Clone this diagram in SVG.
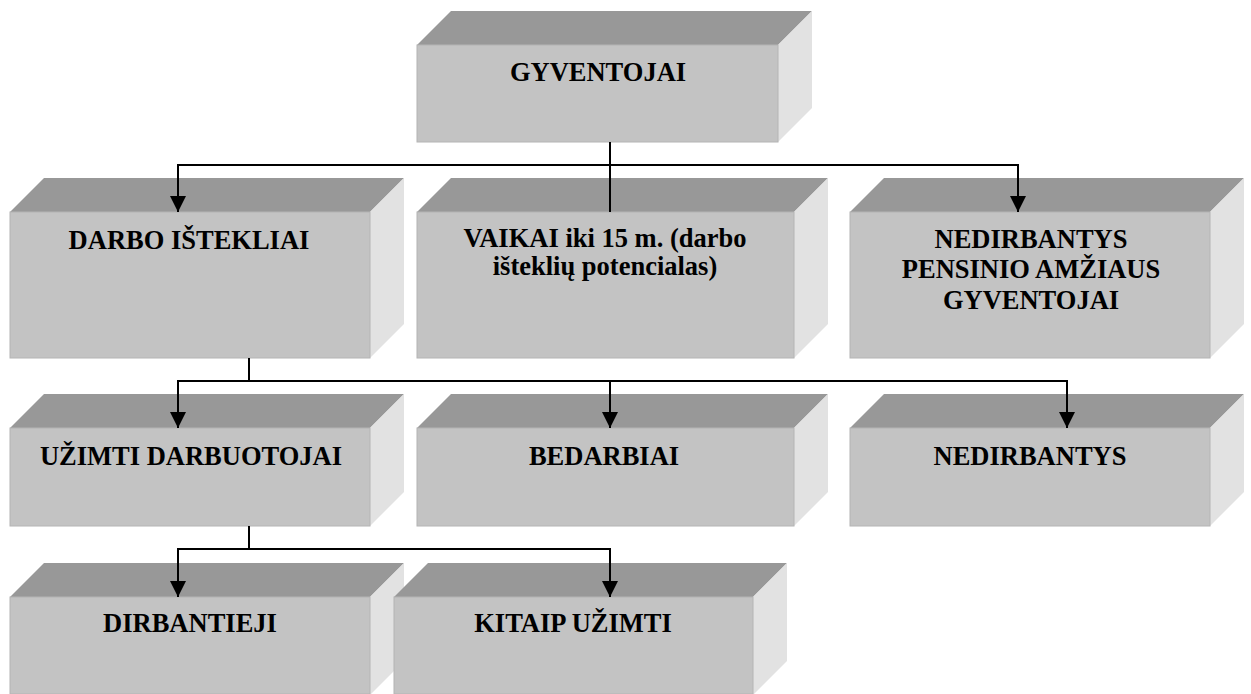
<svg xmlns="http://www.w3.org/2000/svg" width="1251" height="694" viewBox="0 0 1251 694">
<defs>
<style>
.front{fill:#c3c3c3;stroke:#b4b4b4;stroke-width:1}
.top{fill:#989898}
.side{fill:#e2e2e2}
.lbl{font-family:'Liberation Serif','Times New Roman',serif;font-weight:bold;font-size:26.5px;fill:#000;text-anchor:middle}
.ln{stroke:#000;stroke-width:2;fill:none}
</style>
<marker id="arr" markerUnits="userSpaceOnUse" markerWidth="16" markerHeight="16" viewBox="0 0 16 16" refX="16" refY="8" orient="auto">
<path d="M0,0 L16,8 L0,16 Z" fill="#000"/>
</marker>
</defs>
<rect width="1251" height="694" fill="#fff"/>

<g id="n-gyventojai">
<polygon class="top" points="417,45 451,11 812,11 778,45"/>
<polygon class="side" points="778,45 812,11 812,108 778,142"/>
<rect class="front" x="417" y="45" width="361" height="97"/>
<text class="lbl" x="598" y="81">GYVENTOJAI</text>
</g>

<g id="n-darbo">
<polygon class="top" points="10,212 44,178 404,178 370,212"/>
<polygon class="side" points="370,212 404,178 404,324 370,358"/>
<rect class="front" x="10" y="212" width="360" height="146"/>
<text class="lbl" x="189" y="249">DARBO IŠTEKLIAI</text>
</g>

<g id="n-vaikai">
<polygon class="top" points="417,212 451,178 828,178 794,212"/>
<polygon class="side" points="794,212 828,178 828,324 794,358"/>
<rect class="front" x="417" y="212" width="377" height="146"/>
<text class="lbl" x="605" y="247">VAIKAI iki 15 m. (darbo</text>
<text class="lbl" x="605" y="275">išteklių potencialas)</text>
</g>

<g id="n-pensinio">
<polygon class="top" points="850,212 884,178 1244,178 1210,212"/>
<polygon class="side" points="1210,212 1244,178 1244,324 1210,358"/>
<rect class="front" x="850" y="212" width="360" height="146"/>
<text class="lbl" x="1031" y="248">NEDIRBANTYS</text>
<text class="lbl" x="1031" y="278">PENSINIO AMŽIAUS</text>
<text class="lbl" x="1031" y="309">GYVENTOJAI</text>
</g>

<g id="n-uzimti">
<polygon class="top" points="10,428 44,394 404,394 370,428"/>
<polygon class="side" points="370,428 404,394 404,492 370,526"/>
<rect class="front" x="10" y="428" width="360" height="98"/>
<text class="lbl" x="191" y="465">UŽIMTI DARBUOTOJAI</text>
</g>

<g id="n-bedarbiai">
<polygon class="top" points="417,428 451,394 828,394 794,428"/>
<polygon class="side" points="794,428 828,394 828,492 794,526"/>
<rect class="front" x="417" y="428" width="377" height="98"/>
<text class="lbl" x="604" y="465">BEDARBIAI</text>
</g>

<g id="n-nedirbantys">
<polygon class="top" points="850,428 884,394 1244,394 1210,428"/>
<polygon class="side" points="1210,428 1244,394 1244,492 1210,526"/>
<rect class="front" x="850" y="428" width="360" height="98"/>
<text class="lbl" x="1030" y="465">NEDIRBANTYS</text>
</g>

<g id="n-dirbantieji">
<polygon class="top" points="10,597 44,563 404,563 370,597"/>
<polygon class="side" points="370,597 404,563 404,661 370,695"/>
<rect class="front" x="10" y="597" width="360" height="97"/>
<text class="lbl" x="190" y="632">DIRBANTIEJI</text>
</g>

<g id="n-kitaip">
<polygon class="top" points="394,597 428,563 787,563 753,597"/>
<polygon class="side" points="753,597 787,563 787,661 753,695"/>
<rect class="front" x="394" y="597" width="359" height="97"/>
<text class="lbl" x="573" y="632">KITAIP UŽIMTI</text>
</g>

<g id="connectors">
<line class="ln" x1="610" y1="142" x2="610" y2="212"/>
<line class="ln" x1="177" y1="165" x2="1019" y2="165"/>
<line class="ln" x1="178" y1="165" x2="178" y2="212" marker-end="url(#arr)"/>
<line class="ln" x1="1018" y1="165" x2="1018" y2="212" marker-end="url(#arr)"/>

<line class="ln" x1="249" y1="358" x2="249" y2="381"/>
<line class="ln" x1="177" y1="381" x2="1068" y2="381"/>
<line class="ln" x1="178" y1="381" x2="178" y2="428" marker-end="url(#arr)"/>
<line class="ln" x1="610" y1="381" x2="610" y2="428" marker-end="url(#arr)"/>
<line class="ln" x1="1067" y1="381" x2="1067" y2="428" marker-end="url(#arr)"/>

<line class="ln" x1="249" y1="526" x2="249" y2="549"/>
<line class="ln" x1="177" y1="549" x2="611" y2="549"/>
<line class="ln" x1="178" y1="549" x2="178" y2="597" marker-end="url(#arr)"/>
<line class="ln" x1="610" y1="549" x2="610" y2="597" marker-end="url(#arr)"/>
</g>
</svg>
